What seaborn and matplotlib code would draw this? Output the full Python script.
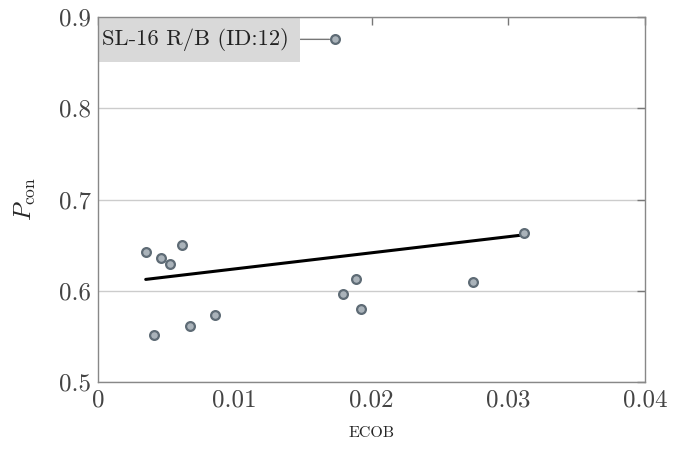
import numpy as np
import pandas as pd
import matplotlib
matplotlib.use("Agg")
import matplotlib.pyplot as plt
import seaborn as sns

# Values
ecob = [0.01733, 0.00349, 0.00458, 0.00526, 0.00617, 0.00412, 0.00675,
        0.00858, 0.01792, 0.01889, 0.01926, 0.03113, 0.02740]
p_con = [0.8755, 0.6425, 0.6362, 0.6297, 0.6501, 0.5515, 0.5614,
         0.5738, 0.5961, 0.6129, 0.5804, 0.6633, 0.6099]
labelled_idx = 0
labelled_name = "SL-16 R/B (ID:12)"

x_ticks = [0, 0.01, 0.02, 0.03, 0.04]
x_tick_labels = ["0", "0.01", "0.02", "0.03", "0.04"]
y_ticks = [0.5, 0.6, 0.7, 0.8, 0.9]
y_tick_labels = ["0.5", "0.6", "0.7", "0.8", "0.9"]

df = pd.DataFrame({"ECOB": ecob, "Pcon": p_con})

sns.set_theme(style="white")
plt.rcParams.update({
    "font.family": "cmr10",
    "mathtext.fontset": "cm",
    "axes.unicode_minus": False,
    "axes.formatter.use_mathtext": True,
    "font.size": 16.5,
})

fig = plt.figure(figsize=(6.75, 4.49), dpi=100)
ax = fig.add_axes([98 / 675, 1 - 382 / 449, 547 / 675, 365 / 449])

# Regression line over all points
sns.regplot(data=df, x="ECOB", y="Pcon", ax=ax, scatter=False, ci=None,
            truncate=True, line_kws={"color": "black", "lw": 2.2, "zorder": 3})

sns.scatterplot(data=df, x="ECOB", y="Pcon", ax=ax, s=40, color="#aab3ba",
                edgecolor="#5e6b75", linewidth=1.6, zorder=4)

ax.annotate(labelled_name, xy=(ecob[labelled_idx], p_con[labelled_idx]),
            xytext=(-33, 0), textcoords="offset points", ha="right", va="center",
            fontsize=16.2, color="#222222",
            bbox=dict(boxstyle="square,pad=0.5", fc="#d9d9d9", ec="none"),
            arrowprops=dict(arrowstyle="-", color="#777777", lw=1.0,
                            shrinkA=0, shrinkB=4),
            clip_on=True, zorder=2)

ax.set_xlim(0, 0.04)
ax.set_ylim(0.5, 0.9)
ax.set_xticks(x_ticks, x_tick_labels)
ax.set_yticks(y_ticks, y_tick_labels)
ax.yaxis.grid(True, color="#cccccc", lw=1.0)
ax.set_axisbelow(True)

ax.tick_params(direction="in", length=6, width=1, color="#777777",
               labelsize=18, labelcolor="#444444",
               top=True, right=True, pad=5)
for s in ax.spines.values():
    s.set_color("#888888")
    s.set_linewidth(1.0)

ax.set_xlabel("ECOB", fontsize=11.5, labelpad=11)
ax.set_ylabel(r"$P_{\mathrm{con}}$", fontsize=18, labelpad=15)

fig.savefig("out.png", dpi=100)
plt.close(fig)
